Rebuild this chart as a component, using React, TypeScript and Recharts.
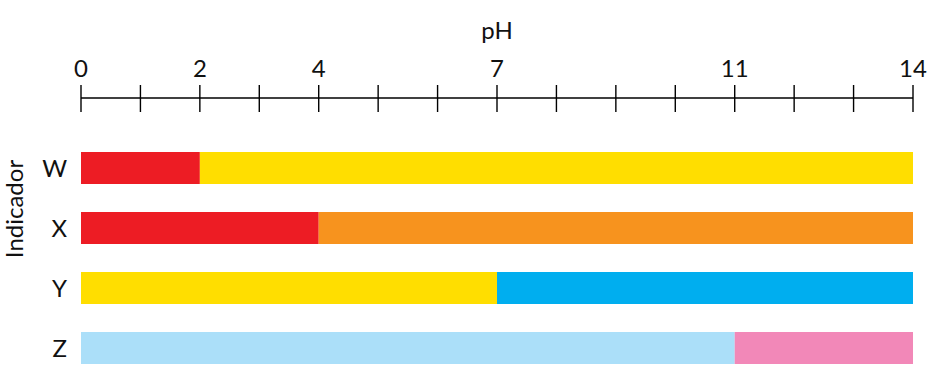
import { BarChart, Bar, XAxis, YAxis, Cell } from "recharts";

const indicators = ["W", "X", "Y", "Z"];
// pH at which each indicator changes colour, and the remaining range up to 14
const lowRange = [2, 4, 7, 11];
const highRange = [12, 10, 7, 3];
const lowColors = ["#ED1C24", "#ED1C24", "#FFDE00", "#ABDFF9"];
const highColors = ["#FFDE00", "#F7931E", "#00AEEF", "#F288B8"];

const phTicks = [0, 1, 2, 3, 4, 5, 6, 7, 8, 9, 10, 11, 12, 13, 14];
const labeledTicks = [0, 2, 4, 7, 11, 14];

const FONT = "Lato, 'Noto Sans', sans-serif";

const data = indicators.map((name, i) => ({
  name,
  low: lowRange[i],
  high: highRange[i],
}));

function PhTick(props: any) {
  const { x, y, payload } = props;
  const show = labeledTicks.includes(payload.value);
  return (
    <g>
      <line x1={x} x2={x} y1={y - 13} y2={y + 14} stroke="#000" strokeWidth={1.4} />
      {show && (
        <text
          x={x}
          y={y - 27}
          textAnchor="middle"
          dominantBaseline="middle"
          fill="#111"
          fontSize={24}
          fontFamily={FONT}
        >
          {payload.value}
        </text>
      )}
    </g>
  );
}

function IndicadorLabel(props: any) {
  const { viewBox } = props;
  const cx = viewBox.x + 17;
  const cy = viewBox.y + viewBox.height / 2 - 29;
  return (
    <text
      x={cx}
      y={cy}
      transform={`rotate(-90, ${cx}, ${cy})`}
      textAnchor="middle"
      dominantBaseline="middle"
      fill="#111"
      fontSize={24}
      fontFamily={FONT}
    >
      Indicador
    </text>
  );
}

export default function App() {
  return (
    <div
      style={{
        position: "absolute",
        left: 0,
        top: 0,
        width: 931,
        height: 370,
        overflow: "hidden",
        background: "#fff",
      }}
    >
      <BarChart
        width={931}
        height={378}
        data={data}
        layout="vertical"
        margin={{ top: 0, right: 18, left: 0, bottom: 0 }}
        barSize={32}
      >
        <XAxis
          type="number"
          orientation="top"
          domain={[0, 14]}
          ticks={phTicks}
          interval={0}
          height={98}
          tickSize={0}
          tickMargin={0}
          tickLine={false}
          tick={<PhTick />}
          axisLine={{ stroke: "#000", strokeWidth: 1.4 }}
          label={{
            value: "pH",
            position: "insideTop",
            offset: 22,
            fill: "#111",
            fontSize: 24,
            fontFamily: FONT,
          }}
        />
        <YAxis
          type="category"
          dataKey="name"
          width={81}
          padding={{ top: 40, bottom: 0 }}
          axisLine={false}
          tickLine={false}
          tickSize={0}
          tickMargin={14}
          tick={{ fill: "#111", fontSize: 24, fontFamily: FONT }}
          label={<IndicadorLabel />}
        />
        <Bar dataKey="low" stackId="ph" isAnimationActive={false}>
          {data.map((_, i) => (
            <Cell key={i} fill={lowColors[i]} />
          ))}
        </Bar>
        <Bar dataKey="high" stackId="ph" isAnimationActive={false}>
          {data.map((_, i) => (
            <Cell key={i} fill={highColors[i]} />
          ))}
        </Bar>
      </BarChart>
    </div>
  );
}
